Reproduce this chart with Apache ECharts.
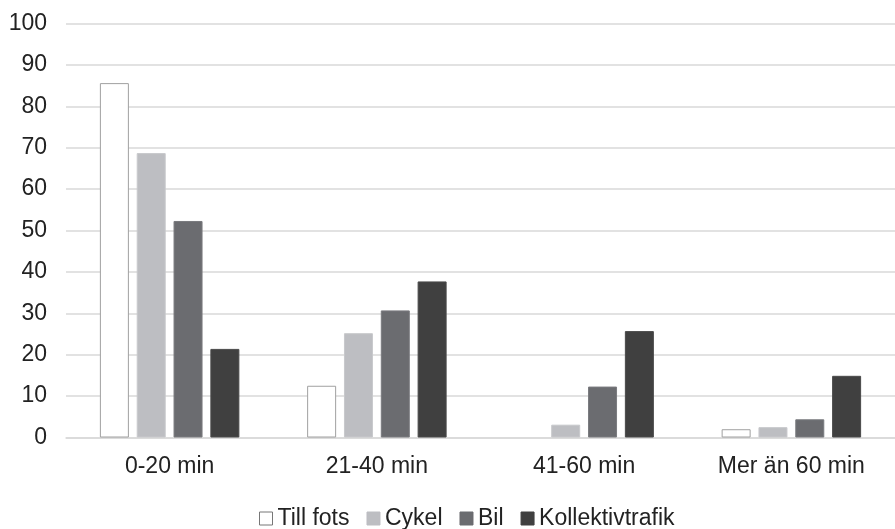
<!DOCTYPE html>
<html><head><meta charset="utf-8">
<script src="https://cdn.jsdelivr.net/npm/echarts@6/dist/echarts.min.js"></script>
<style>html,body{margin:0;padding:0;background:#fff}#c{width:895px;height:529px}</style>
</head><body><div id="c"></div>
<script>
const categories = ['0-20 min', '21-40 min', '41-60 min', 'Mer än 60 min'];
const seriesNames = ['Till fots', 'Cykel', 'Bil', 'Kollektivtrafik'];
const tillFots = [85.6, 12.5, 0, 2.0];
const cykel = [68.7, 25.2, 3.1, 2.5];
const bil = [52.3, 30.7, 12.3, 4.4];
const kollektiv = [21.4, 37.7, 25.7, 14.9];
const colors = ['#ffffff', '#bdbec2', '#6b6c70', '#404040'];
const borders = ['#a0a0a0', '#c8c9cc', '#7a7b7f', '#4a4a4a'];
const values = [tillFots, cykel, bil, kollektiv];

const chart = echarts.init(document.getElementById('c'));
const font = 'Liberation Sans, Arial, sans-serif';
chart.setOption({
  animation: false,
  grid: { left: 66, right: 0, top: 23.5, bottom: 91.5 },
  legend: {
    bottom: -6, left: 254, itemWidth: 13, itemHeight: 13, itemGap: 17,
    icon: 'rect',
    textStyle: { fontFamily: font, fontSize: 23, color: '#222' },
    data: seriesNames.map((n, i) => ({ name: n, itemStyle: { color: colors[i], borderColor: i === 0 ? '#777' : colors[i], borderWidth: 1 } }))
  },
  xAxis: {
    type: 'category', data: categories,
    axisLine: { lineStyle: { color: '#d9d9d9', width: 1.5 } },
    axisTick: { show: false },
    axisLabel: { fontFamily: font, fontSize: 23, color: '#222', margin: 18 }
  },
  yAxis: {
    type: 'value', min: 0, max: 100, interval: 10,
    axisLine: { show: false }, axisTick: { show: false },
    splitLine: { lineStyle: { color: '#d9d9d9', width: 1.5 } },
    axisLabel: { fontFamily: font, fontSize: 23, color: '#222', margin: 19 }
  },
  series: seriesNames.map((n, i) => ({
    name: n, type: 'bar',
    data: values[i].map(v => v === 0 ? { value: v, itemStyle: { borderWidth: 0 } } : v),
    barWidth: 29, barGap: '27%', barCategoryGap: '32%',
    itemStyle: { color: colors[i], borderColor: borders[i], borderWidth: 1 }
  }))
});
</script></body></html>
